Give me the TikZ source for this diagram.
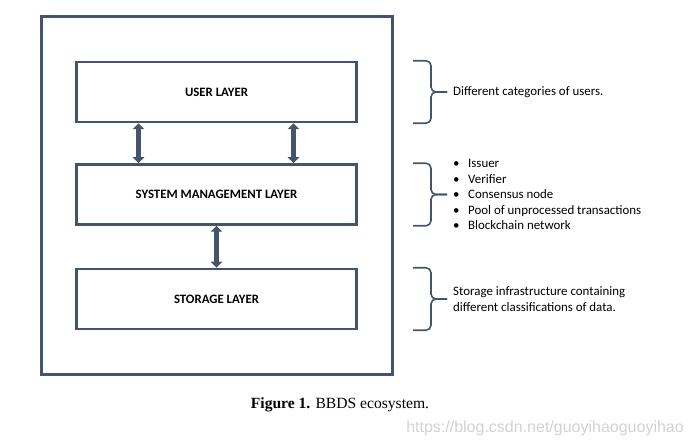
\documentclass[tikz,border=0pt]{standalone}
\usepackage{fontspec}
\setmainfont{Carlito}
\newfontfamily\capfont{Liberation Serif}
\newfontfamily\wmfont{Liberation Sans}
\usepackage{tikz}
\usetikzlibrary{arrows.meta, positioning}
\definecolor{slate}{RGB}{68,84,106}
\tikzset{
    frame/.style={draw=slate, line width=3pt, minimum width=351pt, minimum height=358pt, inner sep=0pt},
    layer/.style={draw=slate, line width=2.5pt, minimum width=280pt, minimum height=60pt, inner sep=0pt,
        font=\bfseries\fontsize{12.8}{15}\selectfont},
    dblarrow/.style={draw=slate, line width=4.5pt,
        {Triangle[length=6pt,width=11.5pt]}-{Triangle[length=6pt,width=11.5pt]}},
    sidebrace/.style={draw=slate, line width=1.6pt, rounded corners=5pt},
    note/.style={anchor=west, align=left, inner sep=0pt, font=\fontsize{12.9}{15.5}\selectfont}
}
\begin{document}
\begin{tikzpicture}[x=1pt, y=-1pt]
    \useasboundingbox (0,0) rectangle (694,446);
    \def \bx {413}
    \def \by {431}
    \def \tip {447}
    \node[frame] (eco) at (216.5,196) {};
    % the three layers
    \node[layer] (user) at (216.5,92) {USER LAYER};
    \node[layer, below=40pt of user] (sys) {SYSTEM MANAGEMENT LAYER};
    \node[layer, below=42pt of sys] (store) {STORAGE LAYER};
    \draw[dblarrow] ([xshift=-78pt]user.south) -- ([xshift=-78pt]user.south |- sys.north);
    \draw[dblarrow] ([xshift=77pt]user.south) -- ([xshift=77pt]user.south |- sys.north);
    \draw[dblarrow] (sys.south) -- (store.north);
    % braces on the right
    \foreach \lay in {user, sys, store}{
        \draw[sidebrace] (\bx,0 |- \lay.north) -| (\by,0 |- \lay.center) -- (\tip,0 |- \lay.center);
        \draw[sidebrace] (\bx,0 |- \lay.south) -| (\by,0 |- \lay.center) -- (\tip,0 |- \lay.center);
    }
    \node[note] (unote) at (453,0 |- user) {Different categories of users.};
    \node[note] (snote) at (453,0 |- sys) {%
        \makebox[15pt][l]{\textbullet}Issuer\\
        \makebox[15pt][l]{\textbullet}Verifier\\
        \makebox[15pt][l]{\textbullet}Consensus node\\
        \makebox[15pt][l]{\textbullet}Pool of unprocessed transactions\\
        \makebox[15pt][l]{\textbullet}Blockchain network};
    \node[note] (stnote) at (453,0 |- store) {Storage infrastructure containing\\different classifications of data.};
    % caption
    \node (cap) at (340,405) {\capfont\fontsize{15.6}{18}\selectfont\textbf{Figure 1.} BBDS ecosystem.};
    \node[anchor=east, text=gray!35, inner sep=0pt] (wm) at (684,428)
        {\wmfont\fontsize{16}{18}\selectfont https://blog.csdn.net/guoyihaoguoyihao};
\end{tikzpicture}
\end{document}
